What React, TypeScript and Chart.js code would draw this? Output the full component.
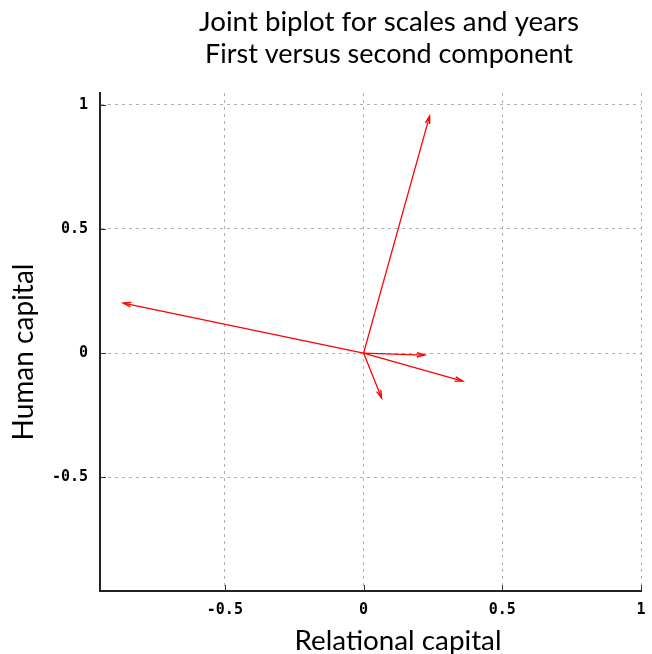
import React, { useEffect, useRef } from 'react';
import { Chart, registerables } from 'chart.js';

Chart.register(...registerables);

// ---- data ----
const vectorNames = ['Vector 1', 'Vector 2', 'Vector 3', 'Vector 4', 'Vector 5'];
const vectorX = [0.238, -0.866, 0.22, 0.357, 0.065];
const vectorY = [0.954, 0.201, -0.008, -0.113, -0.181];
const xTickValues = [-0.5, 0, 0.5, 1];
const yTickValues = [-0.5, 0, 0.5, 1];
const titleLines = ['Joint biplot for scales and years', 'First versus second component'];
const xAxisTitle = 'Relational capital';
const yAxisTitle = 'Human capital';

const TEXT_FONT = 'Lato, "DejaVu Sans", sans-serif';

function fitFont(ctx: CanvasRenderingContext2D, text: string, target: number) {
  ctx.font = `25px ${TEXT_FONT}`;
  const w = ctx.measureText(text).width;
  const size = 25 * target / w;
  return `${size.toFixed(2)}px ${TEXT_FONT}`;
}

const decorPlugin = {
  id: 'decor',
  afterDatasetsDraw(chart: any) {
    const ctx: CanvasRenderingContext2D = chart.ctx;
    const xs = chart.scales.x;
    const ys = chart.scales.y;
    // arrow heads
    chart.data.datasets.forEach((ds: any) => {
      const p0 = ds.data[0];
      const p1 = ds.data[1];
      const x0 = xs.getPixelForValue(p0.x);
      const y0 = ys.getPixelForValue(p0.y);
      const x1 = xs.getPixelForValue(p1.x);
      const y1 = ys.getPixelForValue(p1.y);
      const ang = Math.atan2(y1 - y0, x1 - x0);
      const len = 8;
      const spread = (16 * Math.PI) / 180;
      ctx.save();
      ctx.strokeStyle = ds.borderColor;
      ctx.lineWidth = 1.4;
      ctx.beginPath();
      ctx.moveTo(x1 - len * Math.cos(ang - spread), y1 - len * Math.sin(ang - spread));
      ctx.lineTo(x1, y1);
      ctx.lineTo(x1 - len * Math.cos(ang + spread), y1 - len * Math.sin(ang + spread));
      ctx.stroke();
      ctx.restore();
    });
  },
  afterDraw(chart: any) {
    const ctx: CanvasRenderingContext2D = chart.ctx;
    const area = chart.chartArea;
    const xs = chart.scales.x;
    const ys = chart.scales.y;
    ctx.save();
    // inward tick marks
    ctx.strokeStyle = '#333';
    ctx.lineWidth = 1;
    ctx.beginPath();
    xTickValues.forEach((v) => {
      const px = Math.round(xs.getPixelForValue(v)) + 0.5;
      ctx.moveTo(px, area.bottom);
      ctx.lineTo(px, area.bottom - 6);
    });
    yTickValues.forEach((v) => {
      const py = Math.round(ys.getPixelForValue(v)) + 0.5;
      ctx.moveTo(area.left, py);
      ctx.lineTo(area.left + 6, py);
    });
    ctx.stroke();

    // titles
    ctx.fillStyle = '#000';
    ctx.textAlign = 'center';
    ctx.textBaseline = 'alphabetic';
    ctx.font = fitFont(ctx, titleLines[0], 380);
    ctx.fillText(titleLines[0], 389, 31);
    ctx.font = fitFont(ctx, titleLines[1], 368);
    ctx.fillText(titleLines[1], 389, 63);

    ctx.font = fitFont(ctx, xAxisTitle, 207);
    ctx.fillText(xAxisTitle, 398, 650);

    ctx.font = fitFont(ctx, yAxisTitle, 177);
    ctx.translate(33, 352);
    ctx.rotate(-Math.PI / 2);
    ctx.fillText(yAxisTitle, 0, 0);
    ctx.restore();
  },
};

const tickFont = { family: '"DejaVu Sans Mono", "Liberation Mono", monospace', size: 15, weight: 'bold' as const };

export default function App() {
  const ref = useRef<HTMLCanvasElement | null>(null);
  useEffect(() => {
    if (!ref.current) return;
    const datasets = vectorNames.map((name, i) => ({
      label: name,
      data: [
        { x: 0, y: 0 },
        { x: vectorX[i], y: vectorY[i] },
      ],
      showLine: true,
      borderColor: '#ff0000',
      backgroundColor: '#ff0000',
      borderWidth: 1.3,
      pointRadius: 0,
      pointHoverRadius: 0,
    }));
    const chart = new Chart(ref.current, {
      type: 'scatter',
      data: { datasets },
      options: {
        responsive: false,
        animation: false,
        devicePixelRatio: 1,
        layout: { padding: { top: 93, right: 11, bottom: 0, left: 0 } },
        plugins: {
          legend: { display: false },
          title: { display: false },
          tooltip: { enabled: false },
        },
        scales: {
          x: {
            type: 'linear',
            min: -0.95,
            max: 1.0,
            afterBuildTicks: (s: any) => {
              s.ticks = xTickValues.map((v) => ({ value: v }));
            },
            afterFit: (s: any) => {
              s.height = 63;
              s.paddingLeft = 0;
              s.paddingRight = 0;
            },
            grid: { color: '#b0b0b0', lineWidth: 1, drawTicks: false },
            border: { display: true, color: '#222', width: 2, dash: [3, 4] },
            ticks: {
              font: tickFont,
              color: '#000',
              padding: 10,
              maxRotation: 0,
              autoSkip: false,
              callback: (v: any) => String(v),
            },
          },
          y: {
            type: 'linear',
            min: -0.958,
            max: 1.047,
            afterBuildTicks: (s: any) => {
              s.ticks = yTickValues.map((v) => ({ value: v }));
            },
            afterFit: (s: any) => {
              s.width = 100;
              s.paddingTop = 0;
              s.paddingBottom = 0;
            },
            grid: { color: '#b0b0b0', lineWidth: 1, drawTicks: false },
            border: { display: true, color: '#222', width: 2, dash: [3, 4] },
            ticks: {
              font: tickFont,
              color: '#000',
              padding: 12,
              autoSkip: false,
              callback: (v: any) => String(v),
            },
          },
        },
      },
      plugins: [decorPlugin],
    });
    return () => chart.destroy();
  }, []);
  return (
    <div style={{ position: 'absolute', left: 0, top: 0, width: 652, height: 654, background: '#fff' }}>
      <canvas ref={ref} width={652} height={654} style={{ display: 'block' }} />
    </div>
  );
}
